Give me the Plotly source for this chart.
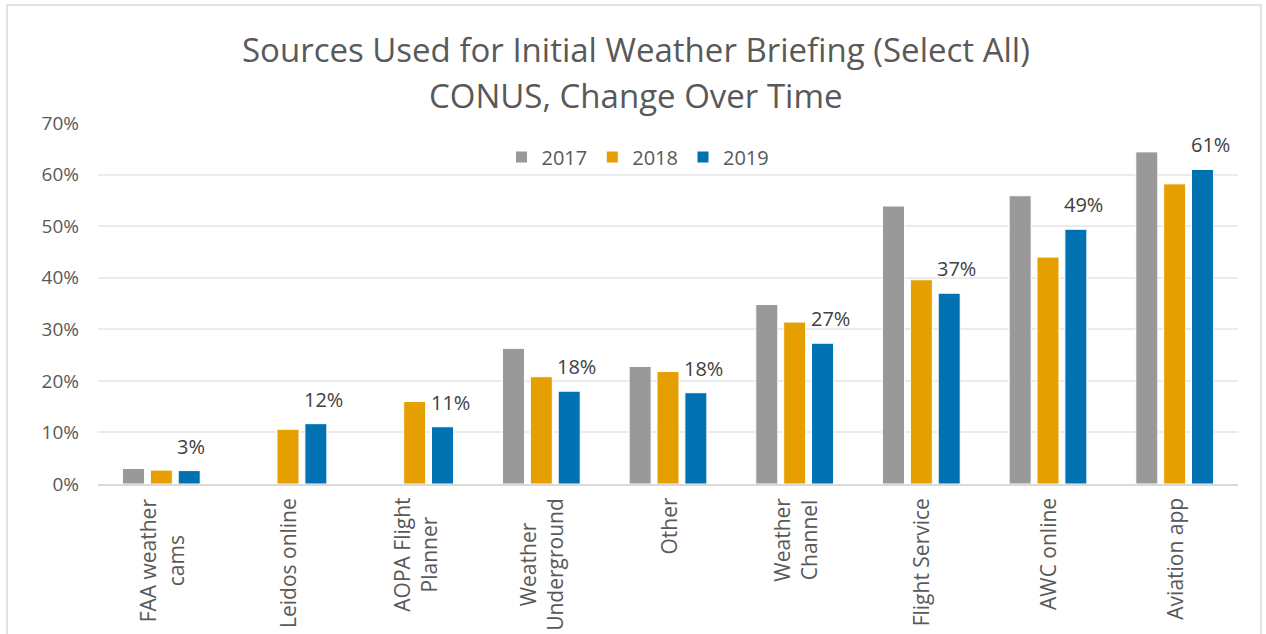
import plotly.graph_objects as go

categories = ["FAA weather cams", "Leidos online", "AOPA Flight Planner", "Weather Underground",
              "Other", "Weather Channel", "Flight Service", "AWC online", "Aviation app"]
tick_labels = ["FAA weather<br>cams", "Leidos online", "AOPA Flight<br>Planner", "Weather<br>Underground",
               "Other", "Weather<br>Channel", "Flight Service", "AWC online", "Aviation app"]
v2017 = [3.0, None, None, 26.3, 22.8, 34.8, 53.9, 55.9, 64.4]
v2018 = [2.7, 10.6, 16.0, 20.8, 21.8, 31.4, 39.6, 44.0, 58.2]
v2019 = [2.6, 11.7, 11.1, 18.0, 17.7, 27.3, 37.0, 49.4, 61.0]
years = ["2017", "2018", "2019"]
colors = ["#999999", "#E69F00", "#0072B2"]
yticks = [0, 10, 20, 30, 40, 50, 60, 70]

FONT = "Open Sans"
TXT = "#595959"

fig = go.Figure()
for name, vals, col in zip(years, [v2017, v2018, v2019], colors):
    fig.add_trace(go.Bar(x=categories, y=vals, name=name,
                         marker=dict(color=col, line=dict(color="white", width=1))))

# Data labels for 2019
for c, v in zip(categories, v2019):
    fig.add_annotation(x=c, y=v, xref="x", yref="y", text=f"{round(v)}%", showarrow=False,
                       xanchor="left", yanchor="bottom", xshift=14, yshift=9,
                       font=dict(family=FONT, size=20, color="#404040"))

# Category labels (rotated, centred multi-line)
for c, lab in zip(categories, tick_labels):
    fig.add_annotation(x=c, y=0, xref="x", yref="y", text=lab, showarrow=False, textangle=-90,
                       xanchor="center", yanchor="top", align="center", yshift=-12,
                       font=dict(family=FONT, size=21, color=TXT))

L, R, T, B = 98, 28, 123, 150
W, H = 1266, 634
pw, ph = W - L - R, H - T - B

def px(xp):
    return (xp - L) / pw

def py(yp):
    return (H - B - yp) / ph

fig.add_annotation(x=px(636), y=py(50), xref="paper", yref="paper", showarrow=False,
                   text="Sources Used for Initial Weather Briefing (Select All)",
                   font=dict(family=FONT, size=33, color=TXT), xanchor="center", yanchor="middle")
fig.add_annotation(x=px(636), y=py(95), xref="paper", yref="paper", showarrow=False,
                   text="CONUS, Change Over Time",
                   font=dict(family=FONT, size=33, color=TXT), xanchor="center", yanchor="middle")

fig.add_shape(type="rect", xref="paper", yref="paper", x0=px(7), x1=px(1261), y0=py(660), y1=py(5),
              line=dict(color="#D9D9D9", width=1.5), fillcolor="rgba(0,0,0,0)", layer="below")

fig.update_layout(
    width=W, height=H,
    margin=dict(l=L, r=R, t=T, b=B, autoexpand=False),
    paper_bgcolor="white", plot_bgcolor="white",
    barmode="group", bargap=0.34, bargroupgap=0.21,
    font=dict(family=FONT, color=TXT, size=20),
    legend=dict(orientation="h", x=px(638), y=py(157), xanchor="center", yanchor="middle",
                font=dict(family=FONT, size=20, color=TXT), bgcolor="rgba(0,0,0,0)",
                itemclick=False),
    showlegend=True,
)
fig.update_yaxes(range=[0, 70], tickvals=yticks, ticktext=[f"{t}%" for t in yticks],
                 showgrid=True, gridcolor="#EBEBEB", gridwidth=1.5, zeroline=False,
                 showline=False, tickfont=dict(family=FONT, size=19, color=TXT), ticks="", ticklen=0,
                 ticklabelstandoff=18, fixedrange=True)
fig.update_xaxes(showticklabels=False, showline=True, linecolor="#D9D9D9", linewidth=1.5,
                 ticks="", fixedrange=True)

fig.write_html("out.html", config={"displayModeBar": False},
               post_script="document.body.style.margin='0px';")
